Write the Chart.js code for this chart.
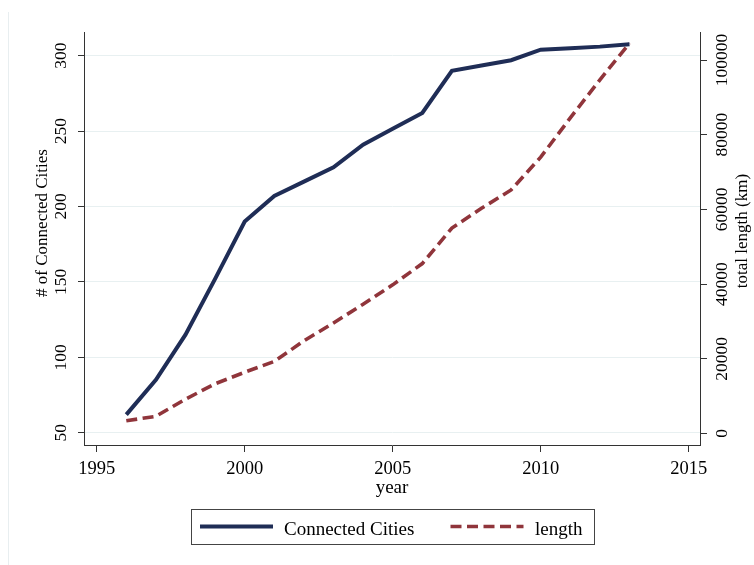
<!DOCTYPE html>
<html>
<head>
<meta charset="utf-8">
<script src="https://cdn.jsdelivr.net/npm/chart.js@4.4.1/dist/chart.umd.min.js"></script>
<style>
  body { margin: 0; background: #fff; }
  #wrap { position: relative; width: 754px; height: 565px; }
  #frame { position: absolute; left: 8px; top: 12px; bottom: 0; border-left: 1px solid #e8eef0; pointer-events: none; }
</style>
</head>
<body>
<div id="wrap">
  <canvas id="connChart" width="754" height="565"></canvas>
  <div id="frame"></div>
</div>
<script>
// data
const years = [1996, 1997, 1998, 1999, 2000, 2001, 2002, 2003, 2004, 2005, 2006, 2007, 2008, 2009, 2010, 2011, 2012, 2013];
const connectedCities = [62, 85, 115, 152, 190, 207, 216.5, 226, 241, 251.5, 262, 290, 293.5, 297, 304, 305, 306, 307.5];
const totalLength = [3400, 4600, 9200, 13300, 16400, 19300, 24800, 29600, 34600, 39800, 45500, 55000, 60300, 65200, 74000, 84500, 94700, 104500];

const yearTicks = [1995, 2000, 2005, 2010, 2015];
const cityTicks = [50, 100, 150, 200, 250, 300];
const lengthTicks = [0, 20000, 40000, 60000, 80000, 100000];

const navy = '#1f2d56';
const maroon = '#90353b';
const axisColor = '#333333';
const serif = '"Liberation Serif", "Times New Roman", serif';

// axis titles and the boxed legend, Stata style
const stataExtras = {
  id: 'stataExtras',
  afterDraw(chart) {
    const ctx = chart.ctx;
    ctx.save();
    ctx.fillStyle = '#000';
    ctx.textBaseline = 'alphabetic';

    ctx.font = '19px ' + serif;
    ctx.textAlign = 'center';
    ctx.fillText('year', (chart.chartArea.left + chart.chartArea.right) / 2, 492.5);

    ctx.font = '17px ' + serif;
    ctx.save();
    ctx.translate(47, 223);
    ctx.rotate(-Math.PI / 2);
    ctx.fillText('# of Connected Cities', 0, 0);
    ctx.restore();

    ctx.save();
    ctx.translate(746.5, 231);
    ctx.rotate(-Math.PI / 2);
    ctx.fillText('total length (km)', 0, 0);
    ctx.restore();

    // legend box
    ctx.strokeStyle = '#444';
    ctx.lineWidth = 1;
    ctx.strokeRect(191.5, 509.5, 403, 35);

    const sampleX = [200, 450.5];
    const textX = [284, 535];
    ctx.font = '19px ' + serif;
    ctx.textAlign = 'left';
    chart.data.datasets.forEach((ds, i) => {
      ctx.beginPath();
      ctx.strokeStyle = ds.borderColor;
      ctx.lineWidth = ds.borderWidth;
      ctx.setLineDash(ds.borderDash || []);
      ctx.moveTo(sampleX[i], 526.5);
      ctx.lineTo(sampleX[i] + 73, 526.5);
      ctx.stroke();
      ctx.setLineDash([]);
      ctx.fillText(ds.label, textX[i], 535);
    });
    ctx.restore();
  }
};

const ctx = document.getElementById('connChart').getContext('2d');
const connChart = new Chart(ctx, {
  type: 'line',
  data: {
    datasets: [
      {
        label: 'Connected Cities',
        data: years.map((y, i) => ({ x: y, y: connectedCities[i] })),
        borderColor: navy,
        backgroundColor: navy,
        borderWidth: 4,
        pointRadius: 0,
        tension: 0,
        yAxisID: 'yCities'
      },
      {
        label: 'length',
        data: years.map((y, i) => ({ x: y, y: totalLength[i] })),
        borderColor: maroon,
        backgroundColor: maroon,
        borderWidth: 3.6,
        borderDash: [11, 5.5],
        pointRadius: 0,
        tension: 0,
        yAxisID: 'yLength'
      }
    ]
  },
  options: {
    responsive: false,
    animation: false,
    layout: { padding: { top: 32, bottom: 75, left: 0, right: 0 } },
    plugins: {
      legend: { display: false },
      tooltip: { enabled: false }
    },
    scales: {
      x: {
        type: 'linear',
        min: 1994.571,
        max: 2015.382,
        afterBuildTicks: s => { s.ticks = yearTicks.map(v => ({ value: v })); },
        afterFit: s => { s.height = 45; },
        border: { display: true, color: axisColor, width: 1 },
        grid: { drawOnChartArea: false, drawTicks: true, tickLength: 7, tickColor: axisColor },
        ticks: {
          color: '#000',
          font: { family: serif, size: 18.5 },
          padding: 6.5,
          maxRotation: 0,
          callback: v => String(v)
        }
      },
      yCities: {
        type: 'linear',
        position: 'left',
        min: 41.84,
        max: 315.7,
        afterBuildTicks: s => { s.ticks = cityTicks.map(v => ({ value: v })); },
        afterFit: s => { s.width = 84; },
        border: { display: true, color: axisColor, width: 1 },
        grid: { color: '#e8f0f1', lineWidth: 1, tickLength: 6, tickColor: axisColor },
        ticks: {
          color: '#000',
          font: { family: serif, size: 17.5 },
          minRotation: 90,
          maxRotation: 90,
          crossAlign: 'center',
          padding: 3,
          callback: v => String(v)
        }
      },
      yLength: {
        type: 'linear',
        position: 'right',
        min: -3079,
        max: 107497,
        afterBuildTicks: s => { s.ticks = lengthTicks.map(v => ({ value: v })); },
        afterFit: s => { s.width = 54; },
        border: { display: true, color: axisColor, width: 1 },
        grid: { drawOnChartArea: false, tickLength: 7, tickColor: axisColor },
        ticks: {
          color: '#000',
          font: { family: serif, size: 17.5 },
          minRotation: 90,
          maxRotation: 90,
          crossAlign: 'center',
          padding: -10.5,
          callback: v => String(v)
        }
      }
    }
  },
  plugins: [stataExtras]
});
</script>
</body>
</html>
